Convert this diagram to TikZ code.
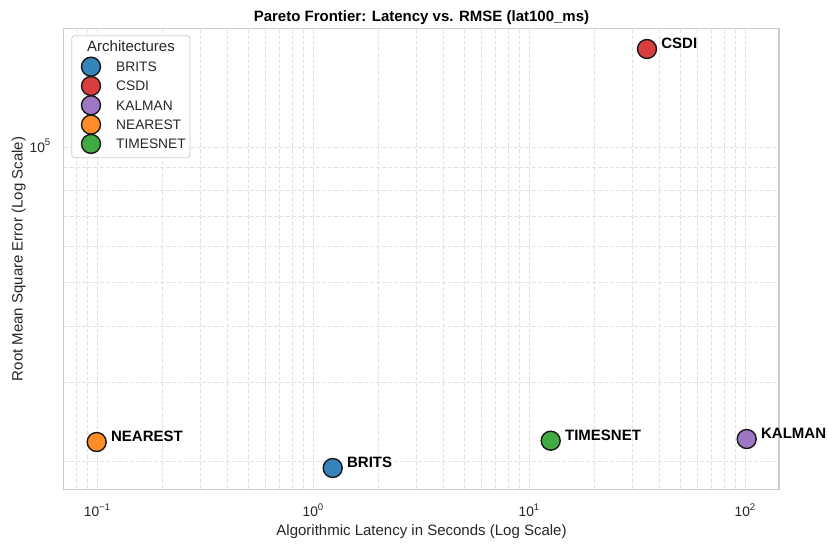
\documentclass[tikz,border=0pt]{standalone}
\usepackage{fontspec}
\setmainfont{Liberation Sans}
\usetikzlibrary{positioning}

\definecolor{britsblue}{HTML}{3585BB}
\definecolor{csdired}{HTML}{DA3D3E}
\definecolor{kalmanpurple}{HTML}{9F76C4}
\definecolor{nearestorange}{HTML}{FF8C26}
\definecolor{timesnetgreen}{HTML}{41AA41}
\definecolor{gridgray}{HTML}{E2E2E2}
\definecolor{framegray}{HTML}{CCCCCC}
\definecolor{textgray}{HTML}{262626}

\begin{document}
\begin{tikzpicture}[
x=1pt,y=-1pt,
gridline/.style={draw=gridgray, line width=0.8pt, dash pattern=on 4pt off 2pt},
frame/.style={draw=framegray, line width=1.25pt},
marker/.style={circle, draw=black!90, line width=1.4pt, minimum size=19pt, inner sep=0pt, fill=#1},
ptlabel/.style={font=\fontsize{15}{18}\selectfont\bfseries, inner sep=0pt},
ticklabel/.style={font=\fontsize{13.75}{16}\selectfont, text=textgray, inner sep=0pt},
axislabel/.style={font=\fontsize{15}{18}\selectfont, text=textgray, inner sep=0pt},
legendbox/.style={draw=framegray, line width=0.8pt, fill=white, rounded corners=3pt},
legendtext/.style={font=\fontsize{13.75}{16}\selectfont, text=textgray, inner sep=0pt},
]
	\useasboundingbox (0,0) rectangle (828,544);

	% grid
	\foreach \d in {-2,...,2}{
		\foreach \m in {1,...,9}{
			\pgfmathsetmacro\gx{313+216*(\d+log10(\m))}
			\ifdim\gx pt>64.5pt \ifdim\gx pt<778pt
				\draw[gridline] (\gx,28.5) -- (\gx,489.5);
			\fi\fi
		}
	}
	\foreach \m in {2,...,10}{
		\pgfmathsetmacro\gy{147+450*(1-log10(\m))}
		\draw[gridline] (64,\gy) -- (779,\gy);
	}
	\draw[frame] (63.5,28.5) rectangle (779,489.5);

	% ticks
	\node[ticklabel, anchor=base] (xtA) at (97,516.6) {10\raisebox{0.47em}{\fontsize{9.6}{10}\selectfont −1}};
	\node[ticklabel, anchor=base] (xtB) at (313,516.6) {10\raisebox{0.47em}{\fontsize{9.6}{10}\selectfont 0}};
	\node[ticklabel, anchor=base] (xtC) at (529,516.6) {10\raisebox{0.47em}{\fontsize{9.6}{10}\selectfont 1}};
	\node[ticklabel, anchor=base] (xtD) at (745,516.6) {10\raisebox{0.47em}{\fontsize{9.6}{10}\selectfont 2}};
	\node[ticklabel, anchor=base east] (ytA) at (50.5,152.3) {10\raisebox{0.47em}{\fontsize{9.6}{10}\selectfont 5}};

	\node[axislabel, anchor=base] (xlab) at (421.5,535.7) {Algorithmic Latency in Seconds (Log Scale)};
	\node[axislabel, rotate=90, anchor=base] (ylab) at (22.7,259) {Root Mean Square Error (Log Scale)};
	\node[ptlabel, anchor=base] (title) at (421.5,21) {Pareto Frontier: Latency vs. RMSE (lat100\_ms)};

	% points
	\node[marker=britsblue] (brits) at (332.7,468) {};
	\node[marker=csdired] (csdi) at (647,49) {};
	\node[marker=kalmanpurple] (kalman) at (746.7,439) {};
	\node[marker=nearestorange] (nearest) at (96.7,442) {};
	\node[marker=timesnetgreen] (timesnet) at (550.7,440.7) {};

	\node[ptlabel, right=4pt of brits, yshift=5.5pt] (britslbl) {BRITS};
	\node[ptlabel, right=4pt of csdi, yshift=5.5pt] (csdilbl) {CSDI};
	\node[ptlabel, right=4pt of kalman, yshift=5.5pt] (kalmanlbl) {KALMAN};
	\node[ptlabel, right=4pt of nearest, yshift=5.5pt] (nearestlbl) {NEAREST};
	\node[ptlabel, right=4pt of timesnet, yshift=5.5pt] (timesnetlbl) {TIMESNET};

	% legend
	\draw[legendbox] (71.7,35.7) rectangle (190,157.7);
	\node[axislabel, anchor=base] (legtitle) at (131,51.5) {Architectures};
	\foreach \name/\col [count=\i] in {BRITS/britsblue, CSDI/csdired, KALMAN/kalmanpurple, NEAREST/nearestorange, TIMESNET/timesnetgreen}{
		\node[marker=\col] (leg\i) at (91,47.4+19.3*\i) {};
		\node[legendtext, right=14.8pt of leg\i] (legtxt\i) {\name};
	}
\end{tikzpicture}
\end{document}
